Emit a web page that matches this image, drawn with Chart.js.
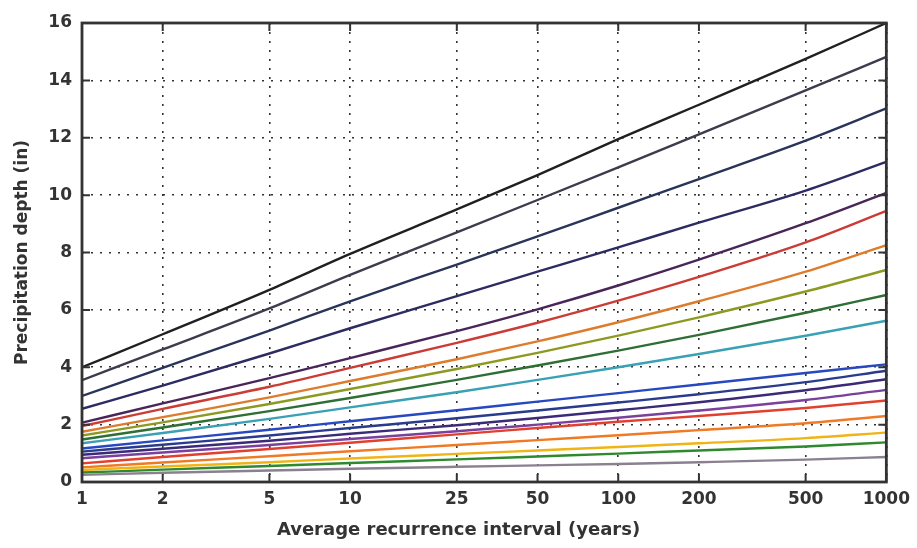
<!DOCTYPE html>
<html>
<head>
<meta charset="utf-8">
<script src="https://cdn.jsdelivr.net/npm/chart.js@4.4.1/dist/chart.umd.min.js"></script>
<style>
  html, body { margin: 0; padding: 0; background: #ffffff; }
  #wrap { width: 917px; height: 548px; }
</style>
</head>
<body>
<div id="wrap"><canvas id="chart" width="917" height="548"></canvas></div>
<script>
// Average recurrence intervals (years) and axis tick labels
const recurrenceYears = [1, 2, 5, 10, 25, 50, 100, 200, 500, 1000];
const xTickLabels = ['1', '2', '5', '10', '25', '50', '100', '200', '500', '1000'];
const depthTicks = [0, 2, 4, 6, 8, 10, 12, 14, 16];

// Precipitation depth (in) per duration, one value per recurrence interval
const depth5min  = [0.25, 0.32, 0.40, 0.46, 0.53, 0.58, 0.63, 0.69, 0.78, 0.87];
const depth10min = [0.33, 0.43, 0.56, 0.66, 0.79, 0.89, 0.99, 1.10, 1.24, 1.38];
const depth15min = [0.42, 0.54, 0.69, 0.82, 0.98, 1.10, 1.22, 1.35, 1.53, 1.72];
const depth30min = [0.51, 0.68, 0.90, 1.07, 1.29, 1.46, 1.63, 1.81, 2.05, 2.30];
const depth60min = [0.65, 0.87, 1.15, 1.37, 1.66, 1.88, 2.10, 2.30, 2.58, 2.84];
const depth2hr   = [0.83, 1.03, 1.29, 1.50, 1.77, 2.00, 2.24, 2.49, 2.86, 3.21];
const depth3hr   = [0.95, 1.16, 1.44, 1.68, 1.98, 2.23, 2.50, 2.78, 3.20, 3.58];
const depth6hr   = [1.06, 1.30, 1.62, 1.88, 2.22, 2.49, 2.77, 3.06, 3.48, 3.88];
const depth12hr  = [1.17, 1.45, 1.82, 2.12, 2.50, 2.80, 3.10, 3.40, 3.80, 4.10];
const depth24hr  = [1.35, 1.71, 2.20, 2.60, 3.13, 3.56, 4.00, 4.46, 5.10, 5.62];
const depth2day  = [1.48, 1.90, 2.47, 2.93, 3.56, 4.06, 4.58, 5.13, 5.90, 6.52];
const depth3day  = [1.62, 2.08, 2.72, 3.24, 3.94, 4.50, 5.10, 5.74, 6.64, 7.39];
const depth4day  = [1.75, 2.26, 2.95, 3.52, 4.28, 4.90, 5.57, 6.30, 7.33, 8.26];
const depth7day  = [1.95, 2.55, 3.32, 3.98, 4.85, 5.55, 6.32, 7.15, 8.35, 9.45];
const depth10day = [2.07, 2.74, 3.62, 4.32, 5.26, 6.02, 6.85, 7.75, 9.02, 10.08];
const depth20day = [2.55, 3.36, 4.48, 5.36, 6.48, 7.33, 8.18, 9.04, 10.16, 11.16];
const depth30day = [3.00, 3.98, 5.28, 6.30, 7.58, 8.56, 9.56, 10.56, 11.90, 13.02];
const depth45day = [3.55, 4.62, 6.05, 7.22, 8.70, 9.83, 10.97, 12.12, 13.65, 14.82];
const depth60day = [4.00, 5.15, 6.70, 7.95, 9.50, 10.70, 11.95, 13.15, 14.75, 16.00];

const durationLabels = ['5-min', '10-min', '15-min', '30-min', '60-min', '2-hr', '3-hr', '6-hr', '12-hr',
  '24-hr', '2-day', '3-day', '4-day', '7-day', '10-day', '20-day', '30-day', '45-day', '60-day'];
const durationSeries = [depth5min, depth10min, depth15min, depth30min, depth60min, depth2hr, depth3hr,
  depth6hr, depth12hr, depth24hr, depth2day, depth3day, depth4day, depth7day, depth10day, depth20day,
  depth30day, depth45day, depth60day];
const lineColors = ['#8a8090', '#2f8a2f', '#f0b416', '#f07a24', '#e2402e', '#7b3f9c', '#3b2a78',
  '#2a3a8c', '#2848c0', '#3aa0b4', '#2f6e34', '#8c9a22', '#dc7c2c', '#cc3c36', '#4a2658', '#2c2c62',
  '#2a3458', '#3c3c4c', '#202020'];

const datasets = durationSeries.map((vals, i) => ({
  label: durationLabels[i],
  data: recurrenceYears.map((yr, j) => ({ x: yr, y: vals[j] })),
  borderColor: lineColors[i],
  backgroundColor: lineColors[i],
  borderWidth: 2.4,
  pointRadius: 0,
  pointHoverRadius: 0,
  cubicInterpolationMode: 'monotone',
  fill: false
}));

const axisFont = { family: '"DejaVu Sans", sans-serif', size: 17, weight: 'bold' };
const inkColor = '#333333';

// Solid frame around the plot plus inward tick marks on all four sides
const framePlugin = {
  id: 'frame',
  afterDatasetsDraw(chart) {
    const { ctx, chartArea: a, scales: { x, y } } = chart;
    ctx.save();
    ctx.setLineDash([]);
    ctx.strokeStyle = inkColor;
    ctx.lineWidth = 2;
    ctx.beginPath();
    x.ticks.forEach(t => {
      const px = x.getPixelForValue(t.value);
      ctx.moveTo(px, a.bottom); ctx.lineTo(px, a.bottom - 8);
      ctx.moveTo(px, a.top); ctx.lineTo(px, a.top + 8);
    });
    y.ticks.forEach(t => {
      const py = y.getPixelForValue(t.value);
      ctx.moveTo(a.left, py); ctx.lineTo(a.left + 8, py);
      ctx.moveTo(a.right, py); ctx.lineTo(a.right - 8, py);
    });
    ctx.stroke();
    ctx.lineWidth = 2.8;
    ctx.strokeRect(a.left, a.top, a.right - a.left, a.bottom - a.top);
    ctx.restore();
  }
};

new Chart(document.getElementById('chart'), {
  type: 'line',
  data: { datasets },
  options: {
    responsive: false,
    devicePixelRatio: 1,
    animation: false,
    layout: { padding: { top: 23, right: 0, left: 0, bottom: 0 } },
    plugins: {
      legend: { display: false },
      tooltip: { enabled: false },
      title: {
        display: true,
        position: 'bottom',
        text: 'Average recurrence interval (years)',
        color: inkColor,
        font: { family: '"DejaVu Sans", sans-serif', size: 18, weight: 'bold' },
        padding: { top: 0, bottom: 7 }
      }
    },
    scales: {
      x: {
        type: 'logarithmic',
        min: 1,
        max: 1000,
        afterBuildTicks: s => { s.ticks = recurrenceYears.map(v => ({ value: v })); },
        afterFit: s => { s.height = 37.4; },
        ticks: {
          autoSkip: false,
          maxRotation: 0,
          padding: 7,
          color: inkColor,
          font: axisFont,
          callback: (v, i) => xTickLabels[i]
        },
        grid: { color: inkColor, lineWidth: 1.6, drawTicks: false },
        border: { display: false, dash: [2, 7] }
      },
      y: {
        type: 'linear',
        min: 0,
        max: 16,
        afterBuildTicks: s => { s.ticks = depthTicks.map(v => ({ value: v })); },
        afterFit: s => { s.width = 82; },
        ticks: { padding: 10, color: inkColor, font: axisFont },
        grid: { color: inkColor, lineWidth: 1.6, drawTicks: false },
        border: { display: false, dash: [2, 7] },
        title: {
          display: true,
          text: 'Precipitation depth (in)',
          color: inkColor,
          font: { family: '"DejaVu Sans", sans-serif', size: 17, weight: 'bold' },
          padding: { top: 12, bottom: 0 }
        }
      },
      yRight: {
        type: 'linear',
        position: 'right',
        display: true,
        afterFit: s => { s.width = 28; },
        ticks: { display: false },
        grid: { display: false, drawTicks: false },
        border: { display: false }
      }
    }
  },
  plugins: [framePlugin]
});
</script>
</body>
</html>
